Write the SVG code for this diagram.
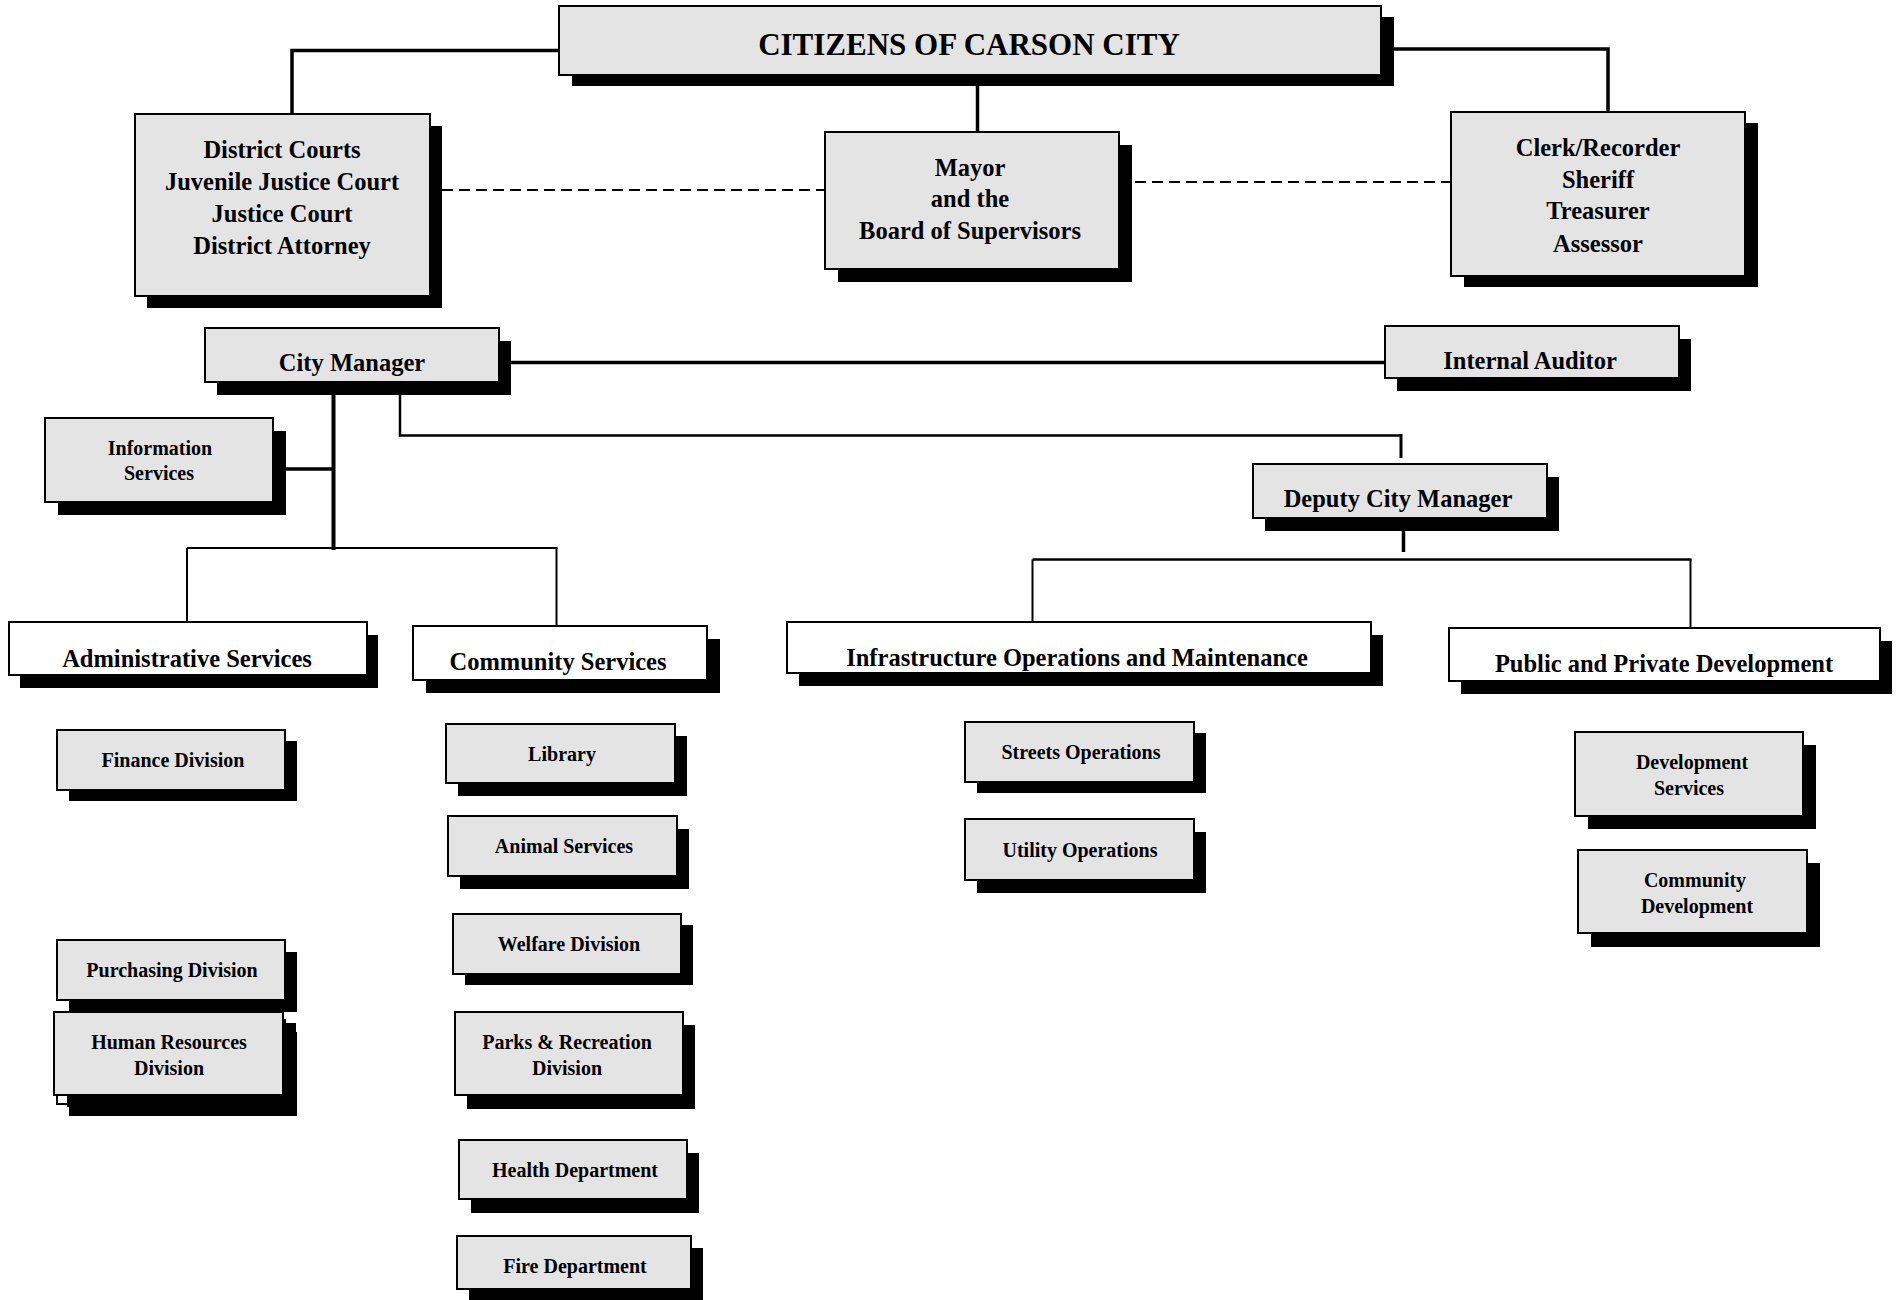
<svg xmlns="http://www.w3.org/2000/svg" width="1896" height="1300" viewBox="0 0 1896 1300">
<style>
.sh{fill:#000}
.box{fill:#e4e4e4;stroke:#000;stroke-width:2}
.wbox{fill:#fff;stroke:#000;stroke-width:2}
text{font-family:"Liberation Serif","Times New Roman",serif;font-weight:bold;fill:#000;text-anchor:middle}
.t1{font-size:31px}
.t2{font-size:24.5px}
.t3{font-size:20px}
.ln{fill:none;stroke:#000}
.dash{fill:none;stroke:#000;stroke-width:2;stroke-dasharray:11 6}
</style>
<rect width="1896" height="1300" fill="#fff"/>
<g id="connectors">
<polyline class="ln" stroke-width="3.5" points="292,114 292,50.5 559,50.5"/>
<line class="ln" stroke-width="3.5" x1="977.5" y1="75" x2="977.5" y2="132"/>
<polyline class="ln" stroke-width="3.5" points="1393,49 1608,49 1608,116"/>
<line class="dash" x1="442" y1="190" x2="825" y2="190"/>
<line class="dash" x1="1135" y1="182" x2="1451" y2="182"/>
<line class="ln" stroke-width="3.5" x1="511" y1="362.5" x2="1385" y2="362.5"/>
<polyline class="ln" stroke-width="2.5" points="400,394 400,435.5 1401,435.5"/>
<line class="ln" stroke-width="3" x1="1401" y1="434" x2="1401" y2="458"/>
<line class="ln" stroke-width="4" x1="333.5" y1="394" x2="333.5" y2="550"/>
<line class="ln" stroke-width="3.5" x1="286" y1="469" x2="333.5" y2="469"/>
<line class="ln" stroke-width="2" x1="187" y1="548" x2="557.5" y2="548"/>
<line class="ln" stroke-width="2" x1="187" y1="548" x2="187" y2="627"/>
<line class="ln" stroke-width="2" x1="556.5" y1="548" x2="556.5" y2="626"/>
<line class="ln" stroke-width="3.5" x1="1403.5" y1="530" x2="1403.5" y2="552"/>
<line class="ln" stroke-width="2.5" x1="1032.5" y1="559.5" x2="1691.5" y2="559.5"/>
<line class="ln" stroke-width="2" x1="1032.5" y1="559.5" x2="1032.5" y2="622"/>
<line class="ln" stroke-width="2" x1="1690.5" y1="559.5" x2="1690.5" y2="630"/>
</g>
<g id="citizens">
<rect class="sh" x="572" y="17" width="822" height="69"/>
<rect class="box" x="559" y="6" width="822" height="69"/>
<text class="t1" x="969" y="55">CITIZENS OF CARSON CITY</text>
</g>
<g id="district">
<rect class="sh" x="147" y="126" width="295" height="182"/>
<rect class="box" x="135" y="114" width="295" height="182"/>
<text class="t2" x="282" y="157.5">District Courts</text>
<text class="t2" x="282" y="189.5">Juvenile Justice Court</text>
<text class="t2" x="282" y="221.5">Justice Court</text>
<text class="t2" x="282" y="253.5">District Attorney</text>
</g>
<g id="mayor">
<rect class="sh" x="838" y="145" width="294" height="137"/>
<rect class="box" x="825" y="132" width="294" height="137"/>
<text class="t2" x="970" y="175.5">Mayor</text>
<text class="t2" x="970" y="207">and the</text>
<text class="t2" x="970" y="239">Board of Supervisors</text>
</g>
<g id="clerk">
<rect class="sh" x="1464" y="123" width="294" height="164"/>
<rect class="box" x="1451" y="112" width="294" height="164"/>
<text class="t2" x="1598" y="155.5">Clerk/Recorder</text>
<text class="t2" x="1598" y="187.5">Sheriff</text>
<text class="t2" x="1598" y="219">Treasurer</text>
<text class="t2" x="1598" y="251.5">Assessor</text>
</g>
<g id="city-manager">
<rect class="sh" x="217" y="341" width="294" height="54"/>
<rect class="box" x="205" y="328" width="294" height="54"/>
<text class="t2" x="352" y="371">City Manager</text>
</g>
<g id="internal-auditor">
<rect class="sh" x="1397" y="339" width="294" height="52"/>
<rect class="box" x="1385" y="326" width="294" height="52"/>
<text class="t2" x="1530" y="369">Internal Auditor</text>
</g>
<g id="information-services">
<rect class="sh" x="58" y="431" width="228" height="84"/>
<rect class="box" x="45" y="418" width="228" height="84"/>
<text class="t3" x="160" y="455">Information</text>
<text class="t3" x="159" y="480">Services</text>
</g>
<g id="deputy">
<rect class="sh" x="1265" y="477" width="294" height="54"/>
<rect class="box" x="1253" y="464" width="294" height="54"/>
<text class="t2" x="1398" y="507">Deputy City Manager</text>
</g>
<g id="administrative-services">
<rect class="sh" x="20" y="635" width="358" height="53"/>
<rect class="wbox" x="9" y="622" width="358" height="53"/>
<text class="t2" x="187" y="666.5">Administrative Services</text>
</g>
<g id="community-services">
<rect class="sh" x="426" y="639" width="294" height="54"/>
<rect class="wbox" x="413" y="626" width="294" height="54"/>
<text class="t2" x="558" y="670">Community Services</text>
</g>
<g id="infrastructure">
<rect class="sh" x="799" y="635" width="584" height="51"/>
<rect class="wbox" x="787" y="622" width="584" height="51"/>
<text class="t2" x="1077" y="665.5">Infrastructure Operations and Maintenance</text>
</g>
<g id="public-private-development">
<rect class="sh" x="1461" y="641" width="431" height="53"/>
<rect class="wbox" x="1449" y="628" width="431" height="53"/>
<text class="t2" x="1664" y="671.5">Public and Private Development</text>
</g>
<g id="finance">
<rect class="sh" x="69" y="741" width="228" height="60"/>
<rect class="box" x="57" y="730" width="228" height="60"/>
<text class="t3" x="173" y="767">Finance Division</text>
</g>
<g id="purchasing">
<rect class="sh" x="69" y="952" width="228" height="60"/>
<rect class="box" x="57" y="940" width="228" height="60"/>
<text class="t3" x="172" y="976.5">Purchasing Division</text>
</g>
<g id="human-resources">
<rect class="sh" x="69" y="1032" width="228" height="84"/>
<rect class="wbox" x="57" y="1020" width="228" height="84"/>
<rect class="sh" x="67" y="1023" width="229" height="84"/>
<rect class="box" x="54" y="1012" width="229" height="83"/>
<text class="t3" x="169" y="1049">Human Resources</text>
<text class="t3" x="169" y="1075">Division</text>
</g>
<g id="library">
<rect class="sh" x="458" y="736" width="229" height="60"/>
<rect class="box" x="446" y="724" width="229" height="59"/>
<text class="t3" x="562" y="761">Library</text>
</g>
<g id="animal-services">
<rect class="sh" x="460" y="829" width="229" height="60"/>
<rect class="box" x="448" y="816" width="229" height="60"/>
<text class="t3" x="564" y="853">Animal Services</text>
</g>
<g id="welfare">
<rect class="sh" x="465" y="925" width="228" height="60"/>
<rect class="box" x="453" y="914" width="228" height="60"/>
<text class="t3" x="569" y="950.5">Welfare Division</text>
</g>
<g id="parks">
<rect class="sh" x="467" y="1025" width="228" height="84"/>
<rect class="box" x="455" y="1012" width="228" height="83"/>
<text class="t3" x="567" y="1049">Parks &amp; Recreation</text>
<text class="t3" x="567" y="1075">Division</text>
</g>
<g id="health">
<rect class="sh" x="471" y="1153" width="228" height="60"/>
<rect class="box" x="459" y="1140" width="228" height="59"/>
<text class="t3" x="575" y="1177">Health Department</text>
</g>
<g id="fire">
<rect class="sh" x="469" y="1248" width="234" height="53"/>
<rect class="box" x="457" y="1236" width="234" height="53"/>
<text class="t3" x="575" y="1273">Fire Department</text>
</g>
<g id="streets">
<rect class="sh" x="977" y="733" width="229" height="60"/>
<rect class="box" x="965" y="722" width="229" height="60"/>
<text class="t3" x="1081" y="759">Streets Operations</text>
</g>
<g id="utility">
<rect class="sh" x="977" y="832" width="229" height="61"/>
<rect class="box" x="965" y="819" width="229" height="61"/>
<text class="t3" x="1080" y="856.5">Utility Operations</text>
</g>
<g id="development-services">
<rect class="sh" x="1588" y="745" width="228" height="84"/>
<rect class="box" x="1575" y="732" width="228" height="84"/>
<text class="t3" x="1692" y="768.5">Development</text>
<text class="t3" x="1689" y="795">Services</text>
</g>
<g id="community-development">
<rect class="sh" x="1591" y="863" width="229" height="84"/>
<rect class="box" x="1578" y="850" width="229" height="83"/>
<text class="t3" x="1695" y="886.5">Community</text>
<text class="t3" x="1697" y="912.5">Development</text>
</g>
</svg>
